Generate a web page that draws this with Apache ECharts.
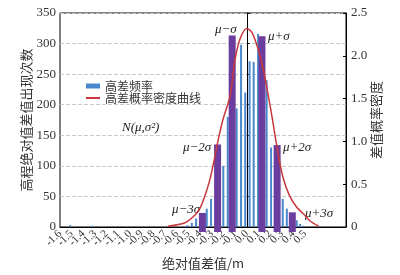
<!DOCTYPE html>
<html>
<head>
<meta charset="utf-8">
<script src="https://cdn.jsdelivr.net/npm/echarts@6/dist/echarts.min.js"></script>
<style>
  html, body { margin: 0; padding: 0; background: #fff; }
  #main { width: 400px; height: 275px; }
</style>
</head>
<body>
<div id="main"></div>
<script>
// 高差频率: bin centre (m) and count
var binX = [-1.514, -1.328, -0.509, -0.471, -0.434, -0.343, -0.306, -0.201, -0.163,
  -0.087, -0.049, -0.013, 0.024, 0.059, 0.097, 0.170, 0.208, 0.308, 0.343, 0.428, 0.457, 0.487];
var binCount = [3, 2, 3, 7, 14, 30, 46, 100, 180,
  194, 298, 220, 271, 270, 316, 240, 130, 46, 30, 11, 5, 2];

// μ±kσ marker bars
var sigmaX = [-0.38, -0.25, -0.125, 0.13, 0.26, 0.39];
var sigmaCount = [23, 135, 313, 312, 134, 24];

// 高差概率密度曲线
var curveX = [-0.674, -0.529, -0.443, -0.400, -0.357, -0.315, -0.278, -0.243, -0.201, -0.143,
  -0.100, -0.057, 0, 0.045, 0.099, 0.142, 0.185, 0.217, 0.247, 0.277, 0.314, 0.365, 0.428,
  0.485, 0.542, 0.614];
var curveY = [0.01, 0.05, 0.14, 0.22, 0.37, 0.56, 0.79, 1.03, 1.27, 1.53,
  1.96, 2.20, 2.32, 2.27, 2.07, 1.84, 1.53, 1.28, 1.03, 0.79, 0.56, 0.37, 0.23,
  0.155, 0.07, 0.012];

// x axis range and tick labels (labels shown from -1.6 to 0.5)
var xMin = -1.6, xMax = 0.85, xStep = 0.1, xLabelMax = 0.5;

var chart = echarts.init(document.getElementById('main'), null, { renderer: 'canvas' });

var serif = '"Liberation Serif", "Noto Sans CJK SC", serif';
var cjk = '"Noto Sans CJK SC", sans-serif';

function zip(a, b) {
  return a.map(function (v, i) { return [v, b[i]]; });
}

function note(text, x, y) {
  return {
    type: 'text', left: x, top: y,
    style: { text: text, font: 'italic 13px "Liberation Serif", serif', fill: '#222' }
  };
}

// label grid starts one step earlier so the -1.6 label is not dropped as the min label
var gridLeft = 60, gridRight = 54;
var plotW = 400 - gridLeft - gridRight;
var stepPx = plotW / (xMax - xMin) * xStep;

var option = {
  animation: false,
  grid: [{
    left: gridLeft, right: gridRight, top: 13, bottom: 47,
    show: true, borderColor: '#000', borderWidth: 1
  }, {
    left: gridLeft - stepPx, right: gridRight, top: 13, bottom: 47,
    show: false
  }],
  legend: {
    orient: 'vertical',
    left: 81, top: 75,
    itemWidth: 14, itemHeight: 5, itemGap: 0,
    textStyle: { fontFamily: cjk, fontSize: 12, lineHeight: 12, color: '#333' },
    data: [
      { name: '高差频率', icon: 'rect' },
      { name: '高差概率密度曲线', icon: 'path://M0,0H14V2H0Z' }
    ]
  },
  xAxis: [{
    type: 'value', gridIndex: 0,
    min: xMin, max: xMax, interval: xStep,
    name: '绝对值差值/m',
    nameLocation: 'middle', nameGap: 30, nameMoveOverlap: false,
    nameTextStyle: { fontFamily: cjk, fontSize: 13, color: '#333' },
    axisLine: { lineStyle: { color: '#000' } },
    axisTick: { show: false },
    axisLabel: { show: false },
    splitLine: { show: false }
  }, {
    type: 'value', gridIndex: 1,
    min: xMin - xStep, max: xMax, interval: xStep,
    axisLine: { show: false },
    axisTick: { show: false },
    splitLine: { show: false },
    axisLabel: {
      rotate: 45, margin: 4, fontSize: 11, fontFamily: serif, color: '#333',
      showMinLabel: false, showMaxLabel: false, hideOverlap: false,
      formatter: function (v) {
        if (v > xLabelMax + 0.05 || v < xMin - 0.05) return '';
        var s = v.toFixed(1);
        return s === '-0.0' ? '0.0' : s;
      }
    }
  }],
  yAxis: [{
    type: 'value', gridIndex: 0, min: 0, max: 350, interval: 50,
    name: '高程绝对值差值出现次数',
    nameLocation: 'middle', nameGap: 27, nameRotate: 90, nameMoveOverlap: false,
    nameTextStyle: { fontFamily: cjk, fontSize: 13, color: '#333' },
    axisLine: { show: true, lineStyle: { color: '#000' } },
    axisTick: { show: true, inside: true, length: 3, lineStyle: { color: '#000' } },
    axisLabel: { fontSize: 13, fontFamily: serif, color: '#333', margin: 4 },
    splitLine: { lineStyle: { type: 'dashed', color: '#c8c8c8' } }
  }, {
    type: 'value', gridIndex: 0, min: 0, max: 2.5, interval: 0.5,
    name: '差值概率密度',
    nameLocation: 'middle', nameGap: 24, nameRotate: 90, nameMoveOverlap: false,
    nameTextStyle: { fontFamily: cjk, fontSize: 13, color: '#333' },
    axisLine: { show: true, lineStyle: { color: '#000' } },
    axisTick: { show: true, inside: true, length: 3, lineStyle: { color: '#000' } },
    axisLabel: {
      fontSize: 13, fontFamily: serif, color: '#333', margin: 5,
      formatter: function (v) { return v === 0 ? '0' : v.toFixed(1); }
    },
    splitLine: { show: false }
  }, {
    type: 'value', gridIndex: 1, min: 0, max: 350, show: false
  }],
  series: [{
    name: '高差频率',
    type: 'bar',
    barWidth: 2,
    itemStyle: { color: '#4a88cc' },
    data: zip(binX, binCount),
    z: 2
  }, {
    name: 'sigma',
    type: 'custom',
    clip: false,
    z: 3,
    data: zip(sigmaX, sigmaCount),
    renderItem: function (params, api) {
      var top = api.coord([api.value(0), api.value(1)]);
      var base = api.coord([api.value(0), 0]);
      return {
        type: 'rect',
        shape: { x: top[0] - 3.5, y: top[1], width: 7, height: base[1] - top[1] + 5 },
        style: { fill: '#6a3d9e' }
      };
    }
  }, {
    name: '高差概率密度曲线',
    type: 'line',
    yAxisIndex: 1,
    smooth: 0.3,
    symbol: 'none',
    lineStyle: { color: '#c8383c', width: 1.5 },
    itemStyle: { color: '#c8383c' },
    data: zip(curveX, curveY),
    z: 4
  }],
  graphic: [
    note('N(μ,σ²)', 122, 121),
    note('μ−σ', 215, 23),
    note('μ+σ', 268, 30),
    note('μ−2σ', 183, 141),
    note('μ+2σ', 283, 141),
    note('μ−3σ', 172, 203),
    note('μ+3σ', 305, 207)
  ]
};

chart.setOption(option);
</script>
</body>
</html>
